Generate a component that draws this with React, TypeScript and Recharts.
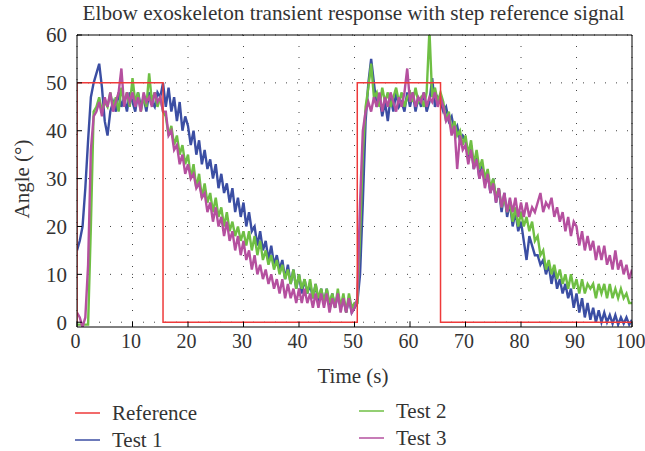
import React from 'react';
import { LineChart, Line, XAxis, YAxis, CartesianGrid } from 'recharts';

// Sampled every 0.5 s, from 0 s to 100 s
const SAMPLE_STEP = 0.5;

const test1: number[] = [
  15, 17, 20, 28, 38, 47, 50, 52, 54, 49, 42, 39, 44, 46, 44, 48, 45, 47, 44, 48,
  46, 44, 48, 45, 47, 44, 48, 46, 45, 48, 47, 50, 45, 49, 44, 47, 42, 46, 40, 43,
  41, 37, 40, 35, 38, 33, 36, 32, 34, 30, 33, 28, 31, 27, 29, 25, 28, 23, 26, 22,
  25, 20, 23, 19, 20, 16, 19, 15, 17, 13, 16, 12, 14, 11, 13, 9, 12, 8, 11, 7,
  10, 6, 9, 6, 8, 5, 8, 4, 7, 4, 7, 3, 6, 3, 6, 3, 5, 2, 5, 2,
  3, 4, 10, 25, 42, 50, 55, 50, 45, 47, 43, 46, 42, 47, 44, 48, 45, 46, 44, 48,
  45, 48, 44, 47, 45, 48, 44, 46, 51, 45, 47, 46, 44, 45, 42, 43, 40, 41, 38, 39,
  38, 34, 37, 32, 35, 30, 33, 29, 31, 27, 30, 25, 28, 23, 27, 22, 25, 20, 23, 19,
  21, 17, 13, 18, 16, 14, 14, 12, 13, 10, 12, 8, 11, 7, 9, 6, 8, 5, 7, 3,
  6, 2, 5, 1, 4, 0.5, 3, 0, 2.5, 0, 2, 0, 1.5, -0.3, 1.5, -0.5, 1, -0.3, 1, -0.5,
  0.5,
];

const test2: number[] = [
  -0.5, -0.5, -0.5, -0.5, -0.5, 20, 44, 45, 47, 44, 46, 45, 48, 45, 47, 44, 49, 46, 48, 45,
  51, 46, 48, 44, 47, 45, 52, 46, 48, 45, 47, 44, 43, 39, 41, 37, 39, 35, 37, 33,
  35, 30, 33, 28, 31, 26, 29, 25, 27, 23, 26, 22, 24, 20, 23, 19, 21, 18, 20, 17,
  19, 16, 19, 15, 18, 14, 17, 13, 15, 12, 14, 11, 13, 10, 12, 9, 11, 8, 11, 7,
  10, 7, 9, 6, 9, 5, 8, 5, 7, 4, 7, 4, 6, 3, 7, 3, 6, 2, 6, 3,
  4, 4, 18, 35, 45, 49, 54, 47, 48, 45, 49, 46, 48, 45, 47, 49, 46, 48, 45, 47,
  48, 46, 49, 46, 47, 45, 48, 61, 47, 49, 46, 48, 46, 42, 44, 40, 42, 39, 40, 37,
  39, 35, 38, 33, 36, 32, 34, 30, 32, 28, 30, 26, 28, 24, 26, 23, 25, 21, 24, 20,
  23, 20, 22, 19, 21, 17, 18, 14, 15, 11, 13, 10, 12, 9, 11, 8, 10, 7, 10, 7,
  9, 6, 9, 6, 8, 7, 8, 5, 8, 6, 8, 5, 8, 5, 7, 5, 7, 5, 6, 4,
  4,
];

const test3: number[] = [
  2, 1, -1, 1, 12, 36, 43, 44, 46, 43, 47, 45, 48, 44, 46, 48, 53, 45, 48, 46,
  48, 45, 47, 44, 48, 46, 47, 45, 48, 46, 47, 44, 44, 39, 40, 36, 37, 33, 35, 31,
  33, 30, 31, 28, 29, 26, 27, 23, 25, 21, 24, 20, 22, 18, 21, 17, 19, 15, 18, 14,
  17, 13, 15, 11, 14, 10, 12, 9, 11, 8, 10, 7, 9, 6, 9, 5, 8, 5, 7, 4,
  7, 4, 7, 4, 6, 3, 6, 3, 6, 3, 6, 2, 5, 3, 6, 2, 5, 2, 5, 2,
  3, 5, 25, 40, 44, 46, 44, 47, 45, 48, 44, 47, 45, 48, 46, 44, 47, 45, 48, 53,
  46, 48, 45, 47, 46, 48, 45, 47, 46, 48, 45, 47, 45, 42, 43, 39, 41, 32, 39, 36,
  37, 33, 36, 32, 34, 30, 32, 28, 31, 27, 29, 25, 28, 24, 27, 23, 26, 23, 26, 22,
  25, 22, 25, 22, 24, 23, 25, 27, 23, 25, 24, 26, 22, 24, 21, 23, 19, 22, 18, 21,
  20, 16, 19, 15, 18, 15, 17, 13, 16, 13, 16, 12, 14, 11, 15, 11, 13, 10, 12, 9,
  11,
];

// Step reference signal (time, angle)
const refTimes: number[] = [0, 0, 15.5, 15.5, 50.5, 50.5, 65.5, 65.5, 100];
const refValues: number[] = [0, 50, 50, 0, 0, 50, 50, 0, 0];

const xTicks: number[] = [0, 10, 20, 30, 40, 50, 60, 70, 80, 90, 100];
const yTicks: number[] = [0, 10, 20, 30, 40, 50, 60];

const seriesNames = ['Reference', 'Test 1', 'Test 2', 'Test 3'];
const COLORS = {
  ref: '#ee3a3a',
  t1: '#3b4ea3',
  t2: '#6fbf44',
  t3: '#b5509f',
};

const table = test1.map((v, i) => ({
  t: i * SAMPLE_STEP,
  test1: v,
  test2: test2[i],
  test3: test3[i],
}));

const refData = refTimes.map((t, i) => ({ t, ref: refValues[i] }));

const FONT = '"Liberation Serif", "Times New Roman", serif';
const TEXT_COLOR = '#333';
const TICK_FONT = 20;
const LABEL_FONT = 21;
const X_TICK_MARGIN = 6;
const Y_TICK_MARGIN = 10;
const INNER_TICK = 5;

const XTick = (props: any) => {
  const { x, y, payload } = props;
  const axisY = y - X_TICK_MARGIN;
  return (
    <g>
      <line x1={x} x2={x} y1={axisY} y2={axisY - INNER_TICK} stroke="#000" />
      <text x={x} y={y} dx={-1.5} dy="0.74em" textAnchor="middle" fontSize={TICK_FONT} fontFamily={FONT} fill={TEXT_COLOR}>
        {payload.value}
      </text>
    </g>
  );
};

const YTick = (props: any) => {
  const { x, y, payload } = props;
  const axisX = x + Y_TICK_MARGIN;
  return (
    <g>
      <line x1={axisX} x2={axisX + INNER_TICK} y1={y} y2={y} stroke="#000" />
      <text x={x} y={y} dy="0.35em" textAnchor="end" fontSize={TICK_FONT + 1} fontFamily={FONT} fill={TEXT_COLOR}>
        {payload.value}
      </text>
    </g>
  );
};

const LegendItem = ({ color, label, left, top }: { color: string; label: string; left: number; top: number }) => (
  <div style={{ position: 'absolute', left, top, display: 'flex', alignItems: 'center', height: 24 }}>
    <svg width={26} height={4} style={{ display: 'block' }}>
      <line x1={0} x2={25} y1={2} y2={2} stroke={color} strokeWidth={1.5} />
    </svg>
    <span style={{ marginLeft: 11, fontSize: LABEL_FONT, color: TEXT_COLOR, fontFamily: FONT, lineHeight: '24px' }}>{label}</span>
  </div>
);

export default function App() {
  return (
    <div style={{ position: 'absolute', left: 0, top: 0, width: 645, height: 451, background: '#fff', fontFamily: FONT }}>
      <div
        style={{
          position: 'absolute',
          left: 0,
          top: 1,
          width: 707,
          textAlign: 'center',
          fontSize: 21.2,
          color: TEXT_COLOR,
          whiteSpace: 'nowrap',
        }}
      >
        Elbow exoskeleton transient response with step reference signal
      </div>
      <LineChart
        width={645}
        height={451}
        data={table}
        margin={{ top: 35, right: 13, left: 0, bottom: 94 }}
      >
        <CartesianGrid stroke="#444" strokeDasharray="1 10" horizontalValues={yTicks} verticalValues={xTicks} />
        <XAxis
          dataKey="t"
          type="number"
          domain={[0, 100]}
          ticks={xTicks}
          allowDataOverflow
          height={30}
          tickSize={0}
          tickMargin={X_TICK_MARGIN}
          tick={<XTick />}
          axisLine={{ stroke: '#000' }}
          tickLine={false}
        />
        <XAxis
          xAxisId="top"
          orientation="top"
          type="number"
          domain={[0, 100]}
          ticks={xTicks}
          height={1}
          mirror
          tick={false}
          tickSize={INNER_TICK}
          stroke="#000"
        />
        <YAxis
          type="number"
          domain={[-1, 60]}
          ticks={yTicks}
          allowDataOverflow
          width={77}
          tickSize={0}
          tickMargin={Y_TICK_MARGIN}
          tick={<YTick />}
          axisLine={{ stroke: '#000' }}
          tickLine={false}
        />
        <YAxis
          yAxisId="right"
          orientation="right"
          type="number"
          domain={[-1, 60]}
          ticks={yTicks}
          width={1}
          mirror
          tick={false}
          tickSize={INNER_TICK}
          stroke="#000"
        />
        <Line dataKey="test1" name={seriesNames[1]} stroke={COLORS.t1} strokeWidth={2.4} dot={false} isAnimationActive={false} />
        <Line dataKey="test2" name={seriesNames[2]} stroke={COLORS.t2} strokeWidth={2.4} dot={false} isAnimationActive={false} />
        <Line dataKey="test3" name={seriesNames[3]} stroke={COLORS.t3} strokeWidth={2.4} dot={false} isAnimationActive={false} />
        <Line data={refData} dataKey="ref" name={seriesNames[0]} stroke={COLORS.ref} strokeWidth={1.5} dot={false} isAnimationActive={false} />
      </LineChart>
      <div
        style={{
          position: 'absolute',
          left: 22,
          top: 179,
          transform: 'translate(-50%, -50%) rotate(-90deg)',
          fontSize: LABEL_FONT,
          color: TEXT_COLOR,
          whiteSpace: 'nowrap',
        }}
      >
        Angle (°)
      </div>
      <div
        style={{
          position: 'absolute',
          left: 353,
          top: 376,
          transform: 'translate(-50%, -50%)',
          fontSize: LABEL_FONT,
          color: TEXT_COLOR,
          whiteSpace: 'nowrap',
        }}
      >
        Time (s)
      </div>
      <LegendItem color={COLORS.ref} label={seriesNames[0]} left={75} top={401} />
      <LegendItem color={COLORS.t1} label={seriesNames[1]} left={75} top={428} />
      <LegendItem color={COLORS.t2} label={seriesNames[2]} left={359} top={399} />
      <LegendItem color={COLORS.t3} label={seriesNames[3]} left={359} top={426} />
    </div>
  );
}
